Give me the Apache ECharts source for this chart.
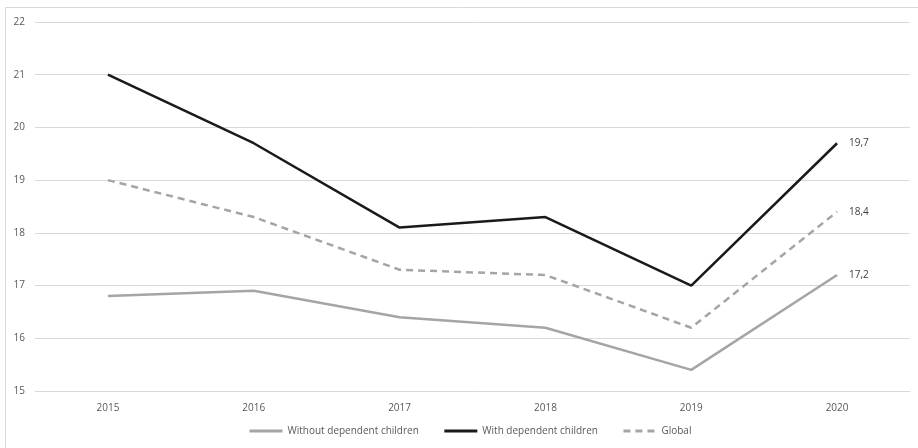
<!DOCTYPE html>
<html>
<head>
<meta charset="utf-8">
<script src="https://cdn.jsdelivr.net/npm/echarts@6/dist/echarts.min.js"></script>
<style>
  html, body { margin: 0; padding: 0; background: #fff; }
  #chart { width: 918px; height: 448px; }
</style>
</head>
<body>
<div id="chart"></div>
<script>
// Years on the horizontal axis
const years = ['2015', '2016', '2017', '2018', '2019', '2020'];

// Series values
const withoutChildren = [16.8, 16.9, 16.4, 16.2, 15.4, 17.2];
const withChildren = [21.0, 19.7, 18.1, 18.3, 17.0, 19.7];
const globalValues = [19.0, 18.3, 17.3, 17.2, 16.2, 18.4];

// Series names for the legend
const seriesNames = ['Without dependent children', 'With dependent children', 'Global'];

const FONT = '"Open Sans", "Liberation Sans", sans-serif';

// Value label at the end of each line, with a decimal comma
function endLabel(arr) {
  const last = arr.length - 1;
  return {
    show: true,
    distance: 12,
    color: '#404040',
    fontSize: 10,
    fontFamily: FONT,
    formatter: function () {
      return String(arr[last]).replace('.', ',');
    }
  };
}

const chart = echarts.init(document.getElementById('chart'), null, { renderer: 'canvas' });

chart.setOption({
  animation: false,
  backgroundColor: '#ffffff',
  graphic: [{
    type: 'rect',
    shape: { x: 5.5, y: 7.5, width: 930, height: 460 },
    style: { fill: 'none', stroke: '#d9d9d9', lineWidth: 1 },
    silent: true,
    z: -1
  }],
  grid: { left: 35, right: 8, top: 22, bottom: 57 },
  legend: {
    bottom: 7,
    left: 243,
    itemWidth: 33,
    itemHeight: 10,
    itemGap: 24,
    // legend keys are plain line samples, no marker dot
    itemStyle: { opacity: 0 },
    lineStyle: { width: 3 },
    textStyle: { color: '#595959', fontSize: 10, fontFamily: FONT },
    data: seriesNames
  },
  xAxis: {
    type: 'category',
    data: years,
    boundaryGap: true,
    axisLine: { show: true, lineStyle: { color: '#d9d9d9' } },
    axisTick: { show: false },
    axisLabel: { color: '#595959', fontSize: 10, fontFamily: FONT, margin: 12 }
  },
  yAxis: {
    type: 'value',
    min: 15,
    max: 22,
    interval: 1,
    axisLine: { show: false },
    axisTick: { show: false },
    axisLabel: { color: '#595959', fontSize: 10, fontFamily: FONT, margin: 10 },
    splitLine: { lineStyle: { color: '#d9d9d9', width: 1 } }
  },
  series: [
    {
      name: seriesNames[0],
      type: 'line',
      data: withoutChildren,
      symbol: 'none',
      lineStyle: { color: '#a5a5a5', width: 2.5 },
      itemStyle: { color: '#a5a5a5' },
      endLabel: endLabel(withoutChildren)
    },
    {
      name: seriesNames[1],
      type: 'line',
      data: withChildren,
      symbol: 'none',
      lineStyle: { color: '#1a1a1a', width: 2.5 },
      itemStyle: { color: '#1a1a1a' },
      endLabel: endLabel(withChildren)
    },
    {
      name: seriesNames[2],
      type: 'line',
      data: globalValues,
      symbol: 'none',
      lineStyle: { color: '#a5a5a5', width: 2.5, type: [7, 5] },
      itemStyle: { color: '#a5a5a5' },
      endLabel: endLabel(globalValues)
    }
  ]
});
</script>
</body>
</html>
